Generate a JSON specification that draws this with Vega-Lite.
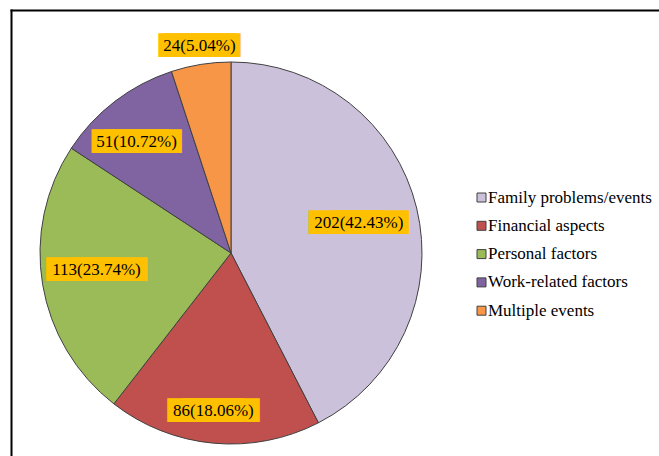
{
  "$schema": "https://vega.github.io/schema/vega-lite/v6.json",
  "width": 648,
  "height": 446,
  "autosize": {"type": "none"},
  "padding": {"left": 11, "top": 10, "right": 0, "bottom": 0},
  "background": "white",
  "config": {
    "view": {"stroke": null},
    "legend": {
      "orient": "none", "legendX": 462, "legendY": 179,
      "symbolType": "square", "symbolSize": 81, "symbolStrokeColor": "#404040", "symbolStrokeWidth": 1, "symbolOpacity": 1,
      "labelFont": "Liberation Serif", "labelFontSize": 17, "labelColor": "black", "labelLimit": 300,
      "rowPadding": 10.3, "labelOffset": -2, "padding": 0
    }
  },
  "data": {"values": [
    {"category": "Family problems/events", "count": 202, "label": "202(42.43%)", "rank": 1},
    {"category": "Financial aspects", "count": 86, "label": "86(18.06%)", "rank": 2},
    {"category": "Personal factors", "count": 113, "label": "113(23.74%)", "rank": 3},
    {"category": "Work-related factors", "count": 51, "label": "51(10.72%)", "rank": 4},
    {"category": "Multiple events", "count": 24, "label": "24(5.04%)", "rank": 5}
  ]},
  "encoding": {
    "theta": {"field": "count", "type": "quantitative", "stack": true},
    "order": {"field": "rank", "type": "quantitative"}
  },
  "layer": [
    {
      "mark": {"type": "point", "opacity": 0},
      "encoding": {
        "theta": null,
        "order": null,
        "x": {"field": "rank", "type": "quantitative",
              "axis": {"orient": "top", "domain": true, "domainColor": "black", "domainWidth": 2, "domainCap": "square", "ticks": false, "labels": false, "grid": false, "title": null}},
        "y": {"field": "count", "type": "quantitative",
              "axis": {"orient": "left", "domain": true, "domainColor": "black", "domainWidth": 2, "domainCap": "square", "ticks": false, "labels": false, "grid": false, "title": null}}
      }
    },
    {
      "mark": {"type": "arc", "outerRadius": 191, "stroke": "#404040", "strokeWidth": 1, "xOffset": -104, "yOffset": 20},
      "encoding": {
        "color": {"field": "category", "type": "nominal", "title": null,
          "scale": {"domain": ["Family problems/events", "Financial aspects", "Personal factors", "Work-related factors", "Multiple events"],
                    "range": ["#CCC1DA", "#C0504D", "#9BBB59", "#8064A2", "#F79646"]}}
      }
    },
    {"mark": {"type": "text", "font": "DejaVu Sans", "fontSize": 20, "color": "#FFC000", "align": "left", "baseline": "middle", "radius": 131.5, "dx": -50, "xOffset": -104, "yOffset": 21},
     "encoding": {"text": {"condition": {"test": "datum.category === 'Family problems/events'", "value": "█████"}, "value": ""}}},
    {"mark": {"type": "text", "font": "DejaVu Sans", "fontSize": 20, "color": "#FFC000", "align": "right", "baseline": "middle", "radius": 131.5, "dx": 50, "xOffset": -104, "yOffset": 21},
     "encoding": {"text": {"condition": {"test": "datum.category === 'Family problems/events'", "value": "█████"}, "value": ""}}},
    {"mark": {"type": "text", "font": "Liberation Serif", "fontSize": 17, "color": "black", "align": "center", "baseline": "middle", "radius": 131.5, "xOffset": -104, "yOffset": 21},
     "encoding": {"text": {"condition": {"test": "datum.category === 'Family problems/events'", "field": "label"}, "value": ""}}},

    {"mark": {"type": "text", "font": "DejaVu Sans", "fontSize": 20, "color": "#FFC000", "align": "left", "baseline": "middle", "radius": 159, "dx": -46, "xOffset": -107, "yOffset": 20},
     "encoding": {"text": {"condition": {"test": "datum.category === 'Financial aspects'", "value": "█████"}, "value": ""}}},
    {"mark": {"type": "text", "font": "DejaVu Sans", "fontSize": 20, "color": "#FFC000", "align": "right", "baseline": "middle", "radius": 159, "dx": 46, "xOffset": -107, "yOffset": 20},
     "encoding": {"text": {"condition": {"test": "datum.category === 'Financial aspects'", "value": "█████"}, "value": ""}}},
    {"mark": {"type": "text", "font": "Liberation Serif", "fontSize": 17, "color": "black", "align": "center", "baseline": "middle", "radius": 159, "xOffset": -107, "yOffset": 20},
     "encoding": {"text": {"condition": {"test": "datum.category === 'Financial aspects'", "field": "label"}, "value": ""}}},

    {"mark": {"type": "text", "font": "DejaVu Sans", "fontSize": 20, "color": "#FFC000", "align": "left", "baseline": "middle", "radius": 135.4, "dx": -50.5, "xOffset": -105, "yOffset": 15},
     "encoding": {"text": {"condition": {"test": "datum.category === 'Personal factors'", "value": "█████"}, "value": ""}}},
    {"mark": {"type": "text", "font": "DejaVu Sans", "fontSize": 20, "color": "#FFC000", "align": "right", "baseline": "middle", "radius": 135.4, "dx": 50.5, "xOffset": -105, "yOffset": 15},
     "encoding": {"text": {"condition": {"test": "datum.category === 'Personal factors'", "value": "█████"}, "value": ""}}},
    {"mark": {"type": "text", "font": "Liberation Serif", "fontSize": 17, "color": "black", "align": "center", "baseline": "middle", "radius": 135.4, "xOffset": -105, "yOffset": 15},
     "encoding": {"text": {"condition": {"test": "datum.category === 'Personal factors'", "field": "label"}, "value": ""}}},

    {"mark": {"type": "text", "font": "DejaVu Sans", "fontSize": 20, "color": "#FFC000", "align": "left", "baseline": "middle", "radius": 145.6, "dx": -45, "xOffset": -110, "yOffset": 25},
     "encoding": {"text": {"condition": {"test": "datum.category === 'Work-related factors'", "value": "█████"}, "value": ""}}},
    {"mark": {"type": "text", "font": "DejaVu Sans", "fontSize": 20, "color": "#FFC000", "align": "right", "baseline": "middle", "radius": 145.6, "dx": 45, "xOffset": -110, "yOffset": 25},
     "encoding": {"text": {"condition": {"test": "datum.category === 'Work-related factors'", "value": "█████"}, "value": ""}}},
    {"mark": {"type": "text", "font": "Liberation Serif", "fontSize": 17, "color": "black", "align": "center", "baseline": "middle", "radius": 145.6, "xOffset": -110, "yOffset": 25},
     "encoding": {"text": {"condition": {"test": "datum.category === 'Work-related factors'", "field": "label"}, "value": ""}}},

    {"mark": {"type": "text", "font": "DejaVu Sans", "fontSize": 20, "color": "#FFC000", "align": "left", "baseline": "middle", "radius": 209.4, "dx": -41, "xOffset": -102.5, "yOffset": 20},
     "encoding": {"text": {"condition": {"test": "datum.category === 'Multiple events'", "value": "█████"}, "value": ""}}},
    {"mark": {"type": "text", "font": "DejaVu Sans", "fontSize": 20, "color": "#FFC000", "align": "right", "baseline": "middle", "radius": 209.4, "dx": 41, "xOffset": -102.5, "yOffset": 20},
     "encoding": {"text": {"condition": {"test": "datum.category === 'Multiple events'", "value": "█████"}, "value": ""}}},
    {"mark": {"type": "text", "font": "Liberation Serif", "fontSize": 17, "color": "black", "align": "center", "baseline": "middle", "radius": 209.4, "xOffset": -102.5, "yOffset": 20},
     "encoding": {"text": {"condition": {"test": "datum.category === 'Multiple events'", "field": "label"}, "value": ""}}}
  ]
}
